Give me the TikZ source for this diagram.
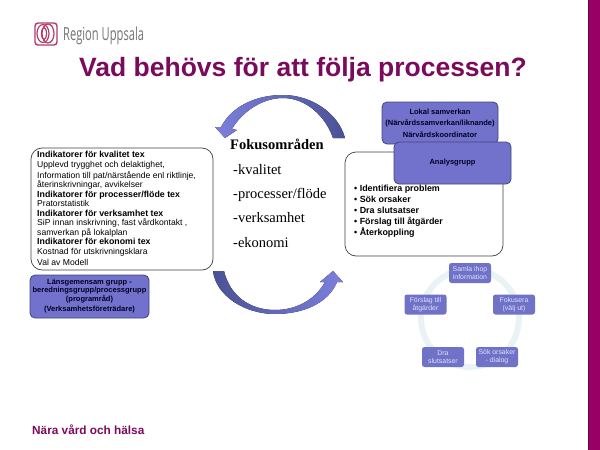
\documentclass[tikz,border=0pt]{standalone}
\usepackage{xcolor}
\usepackage{fontspec}
\setmainfont{Liberation Sans}
\newfontfamily\serifont{Liberation Serif}
\newfontfamily\logofont{Open Sans}
\definecolor{wine}{HTML}{7A0A5C}
\definecolor{barcol}{HTML}{990066}
\definecolor{boxcol}{HTML}{7272CC}
\definecolor{boxedge}{HTML}{3F4678}
\definecolor{arcdark}{HTML}{4A5296}
\definecolor{arclight}{HTML}{7C80DC}
\definecolor{ringcol}{HTML}{E9F2F5}
\definecolor{stepcol}{HTML}{6F72C6}
\definecolor{logocol}{HTML}{B23A68}
\usetikzlibrary{arrows.meta}

\tikzset{
	line/.style={anchor=base west, inner sep=0pt, font=\fontsize{8.6}{10}\selectfont},
	headline/.style={line, font=\fontsize{8.8}{10}\selectfont\bfseries},
	focus/.style={anchor=base west, inner sep=0pt, font=\fontsize{14.5}{16}\serifont},
	whitebox/.style={draw=black!75, fill=white, rounded corners=11pt, line width=0.7pt},
	bluebox/.style={draw=boxedge, fill=boxcol, rounded corners=5pt, line width=0.8pt},
	boxtext/.style={inner sep=0pt, text=black!85!blue, font=\fontsize{7.5}{8}\selectfont\bfseries},
	listline/.style={anchor=base west, inner sep=0pt, font=\fontsize{8.9}{10}\selectfont\bfseries},
	cyclestep/.style={fill=stepcol, rounded corners=2.5pt, minimum width=42pt, minimum height=20pt,
		inner sep=0pt, align=center, text=white!88!blue, font=\fontsize{6.9}{8}\selectfont}
}

\begin{document}
\begin{tikzpicture}[x=1pt,y=-1pt]
\useasboundingbox (0,0) rectangle (600,450);
\fill[barcol] (588,0) rectangle (600,450);
\draw[barcol!70!black, line width=0.8pt] (588,0) -- (588,450);
% logo
\draw[logocol, line width=1.4pt, rounded corners=3pt] (35,23) rectangle (57,45);
\draw[logocol, line width=1.2pt, fill=white] (43,33.5) ellipse (6 and 9);
\draw[logocol, line width=1.2pt] (48,33.5) ellipse (6 and 9.5) (44,33.5) ellipse (2.5 and 6);
\path
	(63,40) node (logotext) [anchor=base west, inner sep=0pt, text=black!55, xscale=0.62, font=\fontsize{18}{20}\logofont]{Region Uppsala}
	(79,76) node (title) [anchor=base west, inner sep=0pt, text=wine, font=\fontsize{26.5}{30}\selectfont\bfseries]{Vad behövs för att följa processen?}
	(32,434) node (footer) [anchor=base west, inner sep=0pt, text=wine, font=\fontsize{11.8}{13}\selectfont\bfseries]{Nära vård och hälsa};

% arrows
\fill[left color=arclight, right color=arcdark]
	(345,138) .. controls (338,112) and (310,95) .. (283,95)
	.. controls (256,95) and (232,106) .. (221,127)
	-- (215,127) -- (225,138) -- (237,130) -- (232,129)
	.. controls (242,112) and (262,98) .. (283,98)
	.. controls (305,98) and (325,115) .. (333,138) -- cycle;
\fill[left color=arcdark, right color=arclight]
	(213,271) .. controls (216,296) and (245,314) .. (275,314)
	.. controls (302,314) and (328,304) .. (337,282)
	-- (343,282) -- (333,271) -- (320,282) -- (325,282)
	.. controls (315,300) and (296,310) .. (275,310)
	.. controls (250,310) and (230,296) .. (224,271) -- cycle;

% left side
\draw[whitebox] (31,148) rectangle (213,270);
\path
	(37,157) node (kvalitet) [headline]{Indikatorer för kvalitet tex}
	(37,167) node (kvalitet1) [line]{Upplevd trygghet och delaktighet,}
	(37,178) node (kvalitet2) [line]{Information till pat/närstående enl riktlinje,}
	(37,187) node (kvalitet3) [line]{återinskrivningar, avvikelser}
	(37,197) node (flode) [headline]{Indikatorer för processer/flöde tex}
	(37,206) node (flode1) [line]{Pratorstatistik}
	(37,216) node (verksamhet) [headline]{Indikatorer för verksamhet tex}
	(37,225) node (verksamhet1) [line]{SiP innan inskrivning, fast vårdkontakt ,}
	(37,235) node (verksamhet2) [line]{samverkan på lokalplan}
	(37,244) node (ekonomi) [headline]{Indikatorer för ekonomi tex}
	(37,254) node (ekonomi1) [line]{Kostnad för utskrivningsklara}
	(37,265) node (modell) [line]{Val av Modell};
\draw[bluebox] (30,275) rectangle (149,318);
\path
	(89.5,283) node (lan1) [boxtext]{Länsgemensam grupp -}
	(89.5,291) node (lan2) [boxtext]{beredningsgrupp/processgrupp}
	(89.5,299) node (lan3) [boxtext]{(programråd)}
	(89.5,310) node (lan4) [boxtext]{(Verksamhetsföreträdare)};

% center
\path
	(230,149) node (fokus) [focus, font=\fontsize{14.5}{16}\serifont\bfseries]{Fokusområden}
	(233,174) node (fokus1) [focus]{-kvalitet}
	(233,198) node (fokus2) [focus]{-processer/flöde}
	(233,222) node (fokus3) [focus]{-verksamhet}
	(233,247) node (fokus4) [focus]{-ekonomi};

% right side
\draw[whitebox] (345,152) rectangle (503,256);
\draw[bluebox] (382,102) rectangle (498,144);
\draw[bluebox] (394,142) rectangle (511,184);
\path
	(440,112) node (lokal1) [boxtext]{Lokal samverkan}
	(440,123) node (lokal2) [boxtext]{(Närvårdssamverkan/liknande)}
	(440,134) node (lokal3) [boxtext]{Närvårdskoordinator}
	(452.5,163) node (analys) [boxtext]{Analysgrupp}
	(354,191) node (list1) [listline]{• Identifiera problem}
	(354,202) node (list2) [listline]{• Sök orsaker}
	(354,213) node (list3) [listline]{• Dra slutsatser}
	(354,224) node (list4) [listline]{• Förslag till åtgärder}
	(354,235) node (list5) [listline]{• Återkoppling};

% cycle
\draw[ringcol, line width=6pt] (470,318) circle (49);
\path
	(470,273) node (samla) [cyclestep]{Samla ihop\\information}
	(514,304.5) node (fokusera) [cyclestep]{Fokusera\\(välj ut)}
	(497,357) node (orsaker) [cyclestep]{Sök orsaker\\- dialog}
	(443,357) node (dra) [cyclestep]{Dra\\slutsatser}
	(425.5,304.5) node (forslag) [cyclestep]{Förslag till\\åtgärder};
\end{tikzpicture}
\end{document}
